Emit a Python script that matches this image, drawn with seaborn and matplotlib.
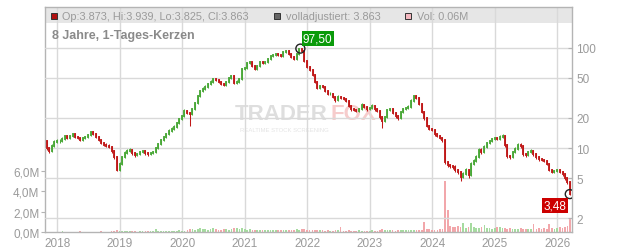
import numpy as np
import pandas as pd
import matplotlib
matplotlib.use("Agg")
import matplotlib.pyplot as plt
from matplotlib.patches import Rectangle
from matplotlib.ticker import NullLocator, FixedLocator, FixedFormatter
import seaborn as sns

sns.set_theme(style="white")
plt.rcParams['font.family'] = ['Liberation Sans', 'DejaVu Sans']

# ---------------- data (semi-monthly readings of the chart) ----------------
dates = pd.date_range("2017-10-15", periods=203, freq="SMS")

close = [
    11.7, 10.0, 9.3, 10.5, 11.5, 11.7, 11.7, 12.3, 13.2, 12.6,
    13.2, 13.8, 12.9, 12.6, 12.0, 12.6, 12.9, 13.5, 14.4, 13.8,
    12.9, 12.0, 11.2, 10.7, 10.5, 10.2, 9.3, 8.1, 6.04, 6.93,
    8.1, 8.9, 9.3, 9.55, 8.9, 8.5, 8.7, 9.1, 9.3, 8.9,
    8.7, 8.9, 9.1, 10.0, 11.0, 12.0, 12.9, 13.8, 14.8, 15.5,
    16.2, 17.7, 19.4, 20.8, 23.4, 22.3, 21.8, 24.4, 28.0, 32.9,
    36.9, 38.6, 40.5, 43.3, 45.4, 48.6, 47.5, 45.4, 43.3, 42.4,
    45.4, 49.7, 52.0, 44.3, 45.4, 48.6, 61.1, 62.5, 70.0, 71.7,
    65.5, 61.1, 65.5, 71.7, 70.0, 71.7, 76.8, 82.3, 84.2, 85.8,
    83.6, 82.3, 90.2, 92.3, 86.2, 80.4, 76.8, 86.2, 96.6, 92.3,
    73.4, 64.0, 59.7, 53.3, 45.4, 39.6, 41.4, 40.5, 36.9, 34.5,
    34.5, 32.2, 30.0, 32.2, 31.6, 30.7, 29.4, 26.2, 24.4, 23.9,
    23.6, 24.4, 26.8, 25.6, 24.4, 25.0, 26.2, 24.4, 23.4, 20.3,
    18.6, 20.3, 23.9, 24.2, 22.3, 20.8, 19.9, 22.8, 24.4, 25.0,
    25.6, 29.4, 32.9, 31.4, 27.4, 22.8, 19.9, 16.6, 15.5, 15.1,
    13.8, 13.2, 12.6, 12.0, 7.25, 6.77, 6.6, 6.47, 6.04, 5.77,
    5.14, 5.51, 6.04, 5.38, 6.93, 7.43, 8.1, 9.55, 9.1, 10.2,
    11.2, 11.7, 12.3, 12.6, 12.4, 12.9, 13.2, 10.7, 8.3, 8.1,
    9.1, 9.8, 10.7, 10.5, 8.7, 8.5, 9.1, 9.3, 8.7, 8.1,
    7.77, 7.6, 7.43, 6.93, 6.04, 5.77, 5.9, 6.0, 5.77, 5.51,
    5.02, 4.58, 3.48,
]

high = [
    12.3, 12.0, 10.3, 10.9, 12.0, 12.2, 12.2, 12.8, 13.6, 13.5,
    13.6, 14.2, 14.0, 13.2, 12.9, 12.9, 13.3, 13.9, 14.7, 14.6,
    14.0, 13.1, 12.2, 11.5, 11.2, 11.0, 10.5, 9.5, 8.3, 7.2,
    8.4, 9.3, 9.8, 9.9, 9.8, 9.1, 9.0, 9.4, 9.6, 9.5,
    9.1, 9.2, 9.4, 10.3, 11.3, 12.3, 13.3, 14.2, 15.3, 16.0,
    16.8, 18.3, 20.0, 21.5, 24.2, 24.0, 22.8, 25.2, 29.0, 34.0,
    38.2, 40.0, 42.0, 44.8, 47.0, 50.2, 50.0, 48.5, 46.3, 44.5,
    46.8, 51.2, 53.8, 53.0, 47.0, 50.2, 63.0, 64.5, 72.2, 74.0,
    72.5, 66.5, 67.5, 73.8, 73.0, 73.8, 79.0, 84.8, 86.8, 88.3,
    87.5, 85.0, 92.8, 95.0, 93.5, 87.5, 81.8, 88.6, 97.5, 97.2,
    93.5, 74.8, 65.5, 61.0, 54.5, 46.5, 42.8, 42.6, 41.5, 37.8,
    35.8, 35.3, 33.0, 33.3, 33.2, 32.4, 31.5, 30.0, 26.9, 25.0,
    24.5, 25.2, 27.8, 27.5, 26.3, 25.8, 27.1, 26.8, 25.0, 23.9,
    20.8, 21.0, 24.7, 25.0, 24.8, 22.9, 21.4, 23.6, 25.2, 25.8,
    26.5, 30.4, 34.0, 33.8, 32.0, 28.0, 23.3, 20.3, 17.0, 15.9,
    15.5, 14.2, 13.6, 12.9, 12.3, 7.5, 7.0, 6.85, 6.7, 6.2,
    5.95, 5.75, 6.3, 6.2, 7.2, 7.75, 8.45, 9.9, 9.9, 10.6,
    11.6, 12.1, 12.7, 13.0, 13.0, 13.4, 13.8, 13.5, 11.0, 8.6,
    9.4, 10.2, 11.1, 11.1, 10.7, 9.0, 9.4, 9.7, 9.5, 8.9,
    8.3, 8.0, 7.8, 7.6, 7.1, 6.2, 6.1, 6.2, 6.15, 5.9,
    5.65, 5.15, 4.7,
]

low = [
    11.2, 9.6, 9.0, 9.1, 10.3, 11.2, 11.3, 11.5, 12.1, 12.3,
    12.4, 13.0, 12.6, 12.3, 11.8, 11.8, 12.4, 12.7, 13.3, 13.5,
    12.6, 11.7, 10.9, 10.4, 10.2, 9.9, 9.0, 7.8, 5.9, 5.9,
    6.8, 7.9, 8.7, 9.1, 8.6, 8.2, 8.3, 8.5, 8.9, 8.6,
    8.4, 8.5, 8.7, 8.9, 9.8, 10.8, 11.8, 12.7, 13.5, 14.5,
    15.2, 15.9, 17.3, 19.0, 20.4, 21.6, 16.5, 21.2, 23.8, 27.4,
    32.2, 36.0, 37.6, 39.5, 42.3, 44.4, 46.3, 44.2, 42.0, 41.2,
    41.6, 44.5, 48.6, 43.0, 43.2, 44.5, 47.8, 59.5, 61.2, 68.5,
    64.0, 59.8, 60.0, 64.2, 68.5, 68.6, 70.3, 75.2, 80.6, 82.5,
    81.8, 80.5, 80.8, 88.3, 84.5, 78.6, 75.0, 75.5, 84.8, 90.0,
    71.5, 62.3, 58.0, 51.8, 44.0, 38.4, 38.6, 39.2, 35.8, 33.4,
    33.3, 31.2, 29.0, 29.2, 30.6, 29.7, 28.5, 25.4, 23.6, 23.1,
    22.8, 22.9, 23.8, 24.8, 23.6, 23.7, 24.3, 23.6, 22.6, 19.6,
    15.8, 18.0, 19.8, 23.2, 21.6, 20.1, 19.2, 19.4, 22.2, 23.8,
    24.3, 24.9, 28.6, 30.4, 26.6, 22.1, 19.2, 16.0, 15.0, 14.6,
    13.3, 12.8, 12.2, 11.6, 7.0, 6.5, 6.35, 6.2, 5.8, 5.55,
    4.65, 5.0, 5.35, 5.0, 5.25, 6.75, 7.25, 7.9, 8.8, 8.9,
    9.9, 10.9, 11.4, 12.0, 12.0, 12.1, 12.6, 10.3, 8.0, 7.7,
    7.9, 8.9, 9.6, 10.1, 8.4, 8.2, 8.3, 8.9, 8.4, 7.8,
    7.5, 7.35, 7.2, 6.7, 5.85, 5.6, 5.6, 5.75, 5.6, 5.3,
    4.85, 4.4, 3.4,
]

volume_m = [
    0.05, 0.03, 0.02, 0.03, 0.04, 0.02, 0.03, 0.1, 0.03, 0.02,
    0.04, 0.03, 0.02, 0.03, 0.08, 0.02, 0.03, 0.02, 0.04, 0.03,
    0.02, 0.03, 0.05, 0.02, 0.03, 0.04, 0.06,
    0.12, 0.15, 0.1, 0.08, 0.06, 0.05, 0.07, 0.05, 0.06, 0.04,
    0.05, 0.06, 0.05, 0.07, 0.05, 0.06, 0.25, 0.08, 0.06, 0.1,
    0.08, 0.12, 0.1, 0.09, 0.12, 0.15, 0.1, 0.14,
    0.2, 0.25, 0.3, 0.22, 0.28, 0.4, 0.3, 0.25, 0.22, 0.3,
    0.35, 0.25, 0.2, 0.22, 0.28, 0.3, 0.2, 0.25, 0.38, 0.42,
    0.3, 0.35, 0.28, 0.22, 0.25, 0.2, 0.18, 0.22, 0.2, 0.16,
    0.18, 0.2, 0.15, 0.18, 0.22, 0.17, 0.15, 0.2, 0.18, 0.16,
    0.2, 0.22, 0.25, 0.2, 0.3, 0.28,
    0.22, 0.2, 0.18, 0.2, 0.16, 0.15, 0.18, 0.14, 0.15, 0.12,
    0.14, 0.16, 0.15, 0.5, 0.14, 0.12, 0.15, 0.13, 0.12, 0.14,
    0.15, 0.13, 0.12, 0.14, 0.12,
    0.15, 0.12, 0.14, 0.2, 0.25, 0.18, 0.2, 0.16, 0.15, 0.14,
    0.18, 0.2, 0.16, 0.15, 0.18, 0.22, 0.2, 0.15, 0.18, 0.2,
    1.0, 0.3, 0.25, 0.2, 0.22, 0.18, 0.25, 0.3,
    5.0, 2.2, 0.6, 0.5, 0.45, 0.55, 0.5, 0.9, 0.4, 0.45,
    0.85, 0.5, 0.4, 0.35, 0.45, 0.7, 0.4, 0.35, 0.3, 0.4,
    0.45, 0.5, 0.35, 0.4, 0.3, 0.35, 0.3, 0.28, 0.3, 0.35,
    0.3, 0.25, 0.3, 0.28, 0.8, 0.3, 0.35, 0.3, 0.35, 0.3,
    0.8, 0.35, 0.3, 0.4, 0.5, 0.35, 0.45, 0.6, 1.4,
]

peak_date = pd.Timestamp("2021-11-22")
peak_value = 97.50
last_value = 3.48
years = list(range(2018, 2027))
price_ticks = [2, 5, 10, 20, 50, 100]
volume_ticks = [0, 2, 4, 6]
title = "8 Jahre, 1-Tages-Kerzen"
legend_ohlc = "Op:3.873, Hi:3.939, Lo:3.825, Cl:3.863"
legend_adj = "volladjustiert: 3.863"
legend_vol = "Vol: 0.06M"

# ---------------- styling ----------------
UP = "#4aa838"
DOWN = "#c01818"
VOL_UP = "#a6dba0"
VOL_DOWN = "#f2a7ab"
GRID = "#d9d9d9"
TXT = "#9a9a9a"
SPINE = "#b4b4b4"

W, H = 632, 253
fig = plt.figure(figsize=(W / 100, H / 100), dpi=100)
L, R, B, T = 45, 572, 233, 8
ax_v = fig.add_axes([L / W, 1 - B / H, (R - L) / W, (B - T) / H])
ax_p = ax_v.twinx()

df = pd.DataFrame({"date": dates, "close": close, "high": high, "low": low, "vol": volume_m})
df["open"] = df["close"].shift(1).fillna(df["close"])
df["up"] = df["close"] >= df["open"]
cols = np.where(df["up"], UP, DOWN)

# volume bars
ax_v.bar(df["date"], df["vol"], width=10,
         color=np.where(df["up"], VOL_UP, VOL_DOWN), zorder=2, linewidth=0)
ax_v.set_ylim(0, 22.2)
ax_v.yaxis.set_major_locator(FixedLocator(volume_ticks))
ax_v.yaxis.set_major_formatter(FixedFormatter([f"{v:.1f}M".replace(".", ",") for v in volume_ticks]))
ax_v.tick_params(axis="y", left=True, direction="out", length=3, width=0.8,
                 color=SPINE, labelcolor=TXT, labelsize=8.5, pad=1)

# header band
ax_v.add_patch(Rectangle((0, (B - 24) / (B - T)), 1, 1 - (B - 24) / (B - T),
                         transform=ax_v.transAxes, facecolor="#e6e6e6",
                         edgecolor="none", zorder=0.1))

# x axis
xt = [pd.Timestamp(f"{y}-01-01") for y in years]
ax_v.set_xticks(xt)
ax_v.set_xticklabels([str(y) for y in years])
ax_v.tick_params(axis="x", length=0, labelcolor=TXT, labelsize=8.5, pad=3.5)
ax_v.set_xlim(pd.Timestamp("2017-10-22"), pd.Timestamp("2026-03-28"))
ax_v.set_axisbelow(True)
ax_v.grid(axis="x", color=GRID, linewidth=1.0, zorder=0.5)
ax_v.grid(axis="y", visible=False)
for s in ax_v.spines.values():
    s.set_color(SPINE)
    s.set_linewidth(1.0)

# watermark
ax_v.text(235 / W, 1 - 115 / H, "TRADER", transform=fig.transFigure,
          fontsize=16, fontweight="bold", color="#dedede", ha="left", va="center", zorder=0.3)
ax_v.text(330 / W, 1 - 115 / H, "FOX", transform=fig.transFigure,
          fontsize=16, fontweight="bold", color="#f6cccc", ha="left", va="center", zorder=0.3)
ax_v.text(240 / W, 1 - 131 / H, "REALTIME STOCK SCREENING", transform=fig.transFigure,
          fontsize=4.3, color="#e4e4e4", ha="left", va="center", zorder=0.3)

# candles: wicks then bodies
ax_p.vlines(df["date"], df["low"], df["high"], colors=cols, linewidth=0.75, zorder=3)
lo = np.minimum(df["open"], df["close"])
hi = np.maximum(df["open"], df["close"])
lc = ax_p.vlines(df["date"], lo, hi, colors=cols, linewidth=1.35, zorder=4)
lc.set_capstyle("projecting")
ax_p.set_yscale("log")
ax_p.set_ylim(1.46, 252.9)
ax_p.yaxis.set_major_locator(FixedLocator(price_ticks))
ax_p.yaxis.set_major_formatter(FixedFormatter([str(v) for v in price_ticks]))
ax_p.yaxis.set_minor_locator(NullLocator())
ax_p.tick_params(axis="y", right=True, direction="in", length=3, width=0.8,
                 color=SPINE, labelcolor=TXT, labelsize=8.5, pad=3)
ax_p.grid(axis="y", which="major", color=GRID, linewidth=1.0, zorder=0.5)
ax_p.grid(axis="x", visible=False)
ax_p.set_axisbelow(True)
for s in ax_p.spines.values():
    s.set_visible(False)

# markers (high and last)
mk = pd.DataFrame({"date": [peak_date, df["date"].iloc[-1]], "price": [peak_value, last_value]})
sns.scatterplot(data=mk, x="date", y="price", ax=ax_p, s=42, color="white",
                edgecolor="#222222", linewidth=1.0, zorder=6, legend=False)
ax_p.collections[-1].set_facecolor("none")
ax_p.set_xlabel("")
ax_p.set_ylabel("")
ax_v.set_xlabel("")
ax_v.set_ylabel("")

ax_p.annotate(f"{peak_value:.2f}".replace(".", ","), xy=(peak_date, peak_value),
              xytext=(12.5, 7.5), textcoords="offset points", ha="center", va="center",
              fontsize=8.5, color="white", zorder=7,
              bbox=dict(boxstyle="square,pad=0.12", fc="#0a9a0a", ec="none"))
ax_p.annotate(f"{last_value:.2f}".replace(".", ","), xy=(df["date"].iloc[-1], last_value),
              xytext=(-10.5, -8), textcoords="offset points", ha="center", va="center",
              fontsize=8.5, color="white", zorder=7,
              bbox=dict(boxstyle="square,pad=0.12", fc="#cc0000", ec="none"))

# title & legend texts
fig.text(52 / W, 1 - 36 / H, title, fontsize=9, fontweight="bold", color="#8a8a8a",
         ha="left", va="center")
for x0, fc in [(51, "#b01010"), (274, "#666666"), (405, "#f4b8c0")]:
    fig.add_artist(Rectangle((x0 / W, 1 - 19.5 / H), 6 / W, 6 / H, transform=fig.transFigure,
                             facecolor=fc, edgecolor="#333333", linewidth=0.7))
for x0, s in [(62, legend_ohlc), (286, legend_adj), (417, legend_vol)]:
    fig.text(x0 / W, 1 - 17 / H, s, fontsize=7.8, color=TXT, ha="left", va="center")

fig.savefig("out.png", dpi=100)
